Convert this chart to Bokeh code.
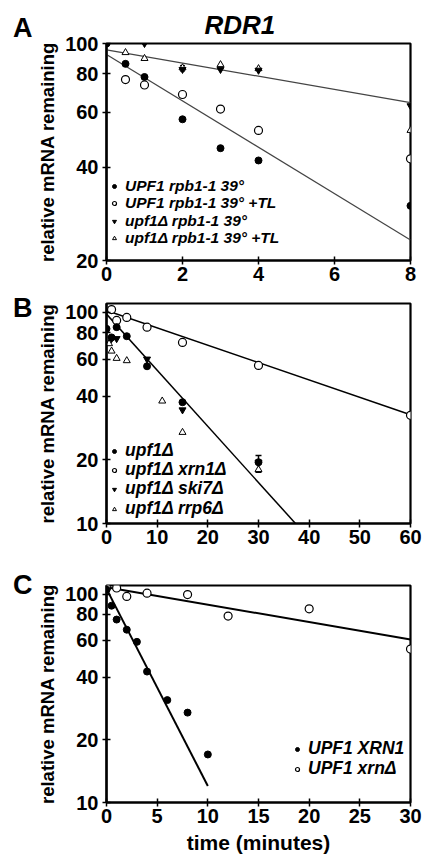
from bokeh.plotting import figure
from bokeh.models import (Range1d, FixedTicker, Whisker, ColumnDataSource, Div,
                          Legend, LegendItem, PrintfTickFormatter, TeeHead)
from bokeh.layouts import column, row
from bokeh.embed import file_html
from bokeh.resources import INLINE

# ---------------- Panel A : RDR1, rpb1-1 shut-off ----------------
a_x_upf1 = [0, 0.5, 1, 2, 3, 4, 8]
a_y_upf1 = [100, 86, 78, 57, 46, 42, 30]
a_x_upf1_tl = [0.5, 1, 2, 3, 4, 8]
a_y_upf1_tl = [76.5, 73.5, 68.5, 61.5, 52.5, 42.5]
a_x_del = [1, 2, 3, 4, 8]
a_y_del = [100, 82.5, 82.5, 82, 63]
a_x_del_tl = [0.5, 1, 2, 3, 4, 8]
a_y_del_tl = [93.5, 89.5, 83.5, 85.5, 83, 52.5]
a_fit_x = [0, 8]
a_fit_slow = [95.4, 64.5]
a_fit_fast = [92.1, 23.3]
a_err_x = [2]
a_err_lo = [81.5]
a_err_hi = [85]
a_xticks = [0, 2, 4, 6, 8]
a_yticks = [20, 40, 60, 80, 100]
a_labels = ["UPF1 rpb1-1 39°", "UPF1 rpb1-1 39° +TL", "upf1Δ rpb1-1 39°", "upf1Δ rpb1-1 39° +TL"]

# ---------------- Panel B ----------------
b_x_upf1 = [0, 1, 2, 4, 8, 15, 30]
b_y_upf1 = [83.5, 76, 85, 77, 55.5, 37.5, 19.5]
b_x_xrn1 = [1, 2, 4, 8, 15, 30, 60]
b_y_xrn1 = [103, 91.5, 94.5, 85, 72, 56, 32.5]
b_x_ski7 = [1, 2, 8, 15, 30]
b_y_ski7 = [75, 75, 60, 34.5, 19.5]
b_x_rrp6 = [0.5, 1, 2, 4, 11, 15, 30]
b_y_rrp6 = [71, 65.5, 60.5, 59, 38, 27, 18]
b_fit_x_slow = [0, 60]
b_fit_y_slow = [102, 32.7]
b_fit_x_fast = [0, 37.3]
b_fit_y_fast = [98, 10]
b_err_x = [30]
b_err_lo = [17.5]
b_err_hi = [21]
b_xticks = [0, 10, 20, 30, 40, 50, 60]
b_yticks = [10, 20, 40, 60, 80, 100]
b_labels = ["upf1Δ", "upf1Δ xrn1Δ", "upf1Δ ski7Δ", "upf1Δ rrp6Δ"]

# ---------------- Panel C ----------------
c_x_xrn1 = [0, 0.5, 1, 2, 3, 4, 6, 8, 10]
c_y_xrn1 = [105, 88, 75.5, 67.5, 59, 42.5, 31, 27, 17]
c_x_xrnd = [0, 1, 2, 4, 8, 12, 20, 30]
c_y_xrnd = [107, 107, 97.5, 101, 99.5, 78.5, 85, 54.5]
c_fit_x_fast = [0, 10]
c_fit_y_fast = [106, 12]
c_fit_x_slow = [0, 30]
c_fit_y_slow = [108, 60.5]
c_xticks = [0, 5, 10, 15, 20, 25, 30]
c_yticks = [10, 20, 40, 60, 80, 100]
c_labels = ["UPF1 XRN1", "UPF1 xrnΔ"]

FONT = "Liberation Sans"
LW = 34          # width of the strip holding the panel letters
W = 422 - LW     # width of each chart


def base_fig(height, xr, yr, xticks, yticks, top, bottom):
    p = figure(width=W, height=height, x_range=Range1d(*xr), y_range=Range1d(*yr),
               y_axis_type="log", output_backend="svg", toolbar_location=None,
               min_border_left=71, min_border_right=12, min_border_top=top,
               min_border_bottom=bottom)
    p.grid.visible = False
    p.outline_line_color = "black"
    p.outline_line_width = 2.2
    p.background_fill_color = "white"
    p.border_fill_color = "white"
    for ax in (p.xaxis[0], p.yaxis[0]):
        ax.axis_line_width = 2.2
        ax.major_tick_line_width = 1.5
        ax.major_tick_in = 4
        ax.major_tick_out = 4
        ax.minor_tick_line_color = None
        ax.major_label_text_font = FONT
        ax.major_label_text_font_style = "bold"
        ax.major_label_text_font_size = "20px"
        ax.major_label_text_color = "black"
        ax.axis_label_text_font = FONT
        ax.axis_label_text_font_style = "bold"
        ax.axis_label_text_color = "black"
    p.xaxis.ticker = FixedTicker(ticks=xticks)
    p.yaxis.ticker = FixedTicker(ticks=yticks)
    p.yaxis.formatter = PrintfTickFormatter(format="%d")
    p.yaxis.axis_label = "relative mRNA remaining"
    p.yaxis.axis_label_text_font_size = "18.5px"
    p.yaxis.major_label_standoff = 4
    p.yaxis.axis_label_standoff = 4
    p.xaxis.major_label_standoff = 2
    return p


def letter_div(height, txt, top):
    html = (f'<div style="position:relative; left:13px; top:{top}px; line-height:27px; '
            f'font-family:\'{FONT}\'; font-weight:bold; font-size:27px; color:black;">{txt}</div>')
    return Div(text=html, width=LW, height=height, margin=0, styles={"overflow": "visible"})


def filled_circle(p, x, y):
    return p.scatter(x, y, marker="circle", size=7, fill_color="black", line_color="black")


def open_circle(p, x, y):
    return p.scatter(x, y, marker="circle", size=8, fill_color="white", line_color="black", line_width=1.2)


def filled_tri(p, x, y):
    return p.scatter(x, y, marker="inverted_triangle", size=7, fill_color="black", line_color="black")


def open_tri(p, x, y):
    return p.scatter(x, y, marker="triangle", size=7, fill_color="white", line_color="black", line_width=1)


def legend_rows(p, labels, renderers, size, x, ys):
    # one single-item legend per row, so that the row spacing can follow the reference
    for lab, r, y in zip(labels, renderers, ys):
        lg = Legend(items=[LegendItem(label=lab, renderers=[r])], location=(x, y),
                    padding=0, margin=0, spacing=0,
                    border_line_color=None, background_fill_alpha=0,
                    label_text_font=FONT, label_text_font_style="bold italic",
                    label_text_color="black",
                    label_text_font_size=size, glyph_width=10, glyph_height=12,
                    label_height=12, label_standoff=6)
        p.add_layout(lg)


# ---------- A ----------
HA, HB, HC = 292, 280, 284
pa = base_fig(HA, (0, 8), (20, 100), a_xticks, a_yticks, 43, 32)
pa.title.text = "RDR1"
pa.title.text_font = FONT
pa.title.text_font_style = "bold italic"
pa.title.text_font_size = "26px"
pa.title.text_color = "black"
pa.title.align = "left"
pa.title.offset = 98
pa.title.standoff = 8
pa.line(a_fit_x, a_fit_slow, line_color="#444444", line_width=1.2)
pa.line(a_fit_x, a_fit_fast, line_color="#444444", line_width=1.2)
pa.add_layout(Whisker(source=ColumnDataSource(dict(x=a_err_x, lo=a_err_lo, hi=a_err_hi)),
                      base="x", lower="lo", upper="hi", line_width=1,
                      upper_head=TeeHead(size=5), lower_head=TeeHead(size=5)))
ra2 = open_circle(pa, a_x_upf1_tl, a_y_upf1_tl)
ra4 = open_tri(pa, a_x_del_tl, a_y_del_tl)
ra3 = filled_tri(pa, a_x_del, a_y_del)
ra1 = filled_circle(pa, a_x_upf1, a_y_upf1)
legend_rows(pa, a_labels, [ra1, ra2, ra3, ra4], "15.5px", 3, [65, 48, 30, 13])

# ---------- B ----------
pb = base_fig(HB, (0, 60), (10, 110), b_xticks, b_yticks, 11, 49)
pb.line(b_fit_x_slow, b_fit_y_slow, line_color="black", line_width=1.5)
pb.line(b_fit_x_fast, b_fit_y_fast, line_color="black", line_width=1.5)
pb.add_layout(Whisker(source=ColumnDataSource(dict(x=b_err_x, lo=b_err_lo, hi=b_err_hi)),
                      base="x", lower="lo", upper="hi", line_width=1.5,
                      upper_head=TeeHead(size=6, line_width=1.5), lower_head=TeeHead(size=6, line_width=1.5)))
rb2 = open_circle(pb, b_x_xrn1, b_y_xrn1)
rb4 = open_tri(pb, b_x_rrp6, b_y_rrp6)
rb3 = filled_tri(pb, b_x_ski7, b_y_ski7)
rb1 = filled_circle(pb, b_x_upf1, b_y_upf1)
legend_rows(pb, b_labels, [rb1, rb2, rb3, rb4], "17.5px", 3, [62, 43, 24, 4])

# ---------- C ----------
pc = base_fig(HC, (0, 30), (10, 110), c_xticks, c_yticks, 13, 52)
pc.line(c_fit_x_slow, c_fit_y_slow, line_color="black", line_width=2)
pc.line(c_fit_x_fast, c_fit_y_fast, line_color="black", line_width=2)
rc2 = open_circle(pc, c_x_xrnd, c_y_xrnd)
rc1 = filled_circle(pc, c_x_xrn1, c_y_xrn1)
legend_rows(pc, c_labels, [rc1, rc2], "17.5px", 186, [43, 23])
pc.xaxis.axis_label = "time (minutes)"
pc.xaxis.axis_label_text_font_size = "21px"
pc.xaxis.axis_label_standoff = 5

layout = column(row(letter_div(HA, "A", 15), pa, spacing=0),
                row(letter_div(HB, "B", 3), pb, spacing=0),
                row(letter_div(HC, "C", 0), pc, spacing=0), spacing=0)
open("out.html", "w").write(file_html(layout, INLINE))
